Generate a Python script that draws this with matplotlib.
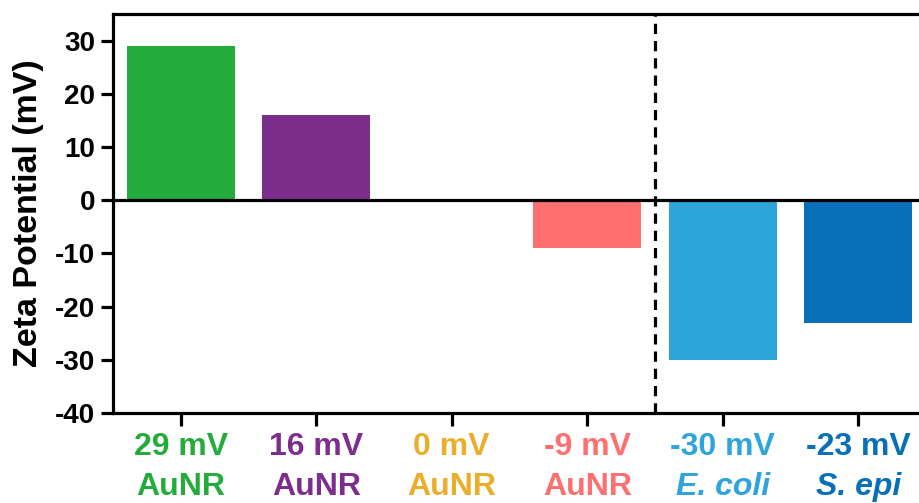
import numpy as np
import matplotlib.pyplot as plt
from matplotlib.transforms import offset_copy

plt.rcParams['font.family'] = ['Liberation Sans', 'DejaVu Sans']
plt.rcParams['font.weight'] = 'bold'

# data
values = [29, 16, 0, -9, -30, -23]
top_labels = ['29 mV', '16 mV', '0 mV', '-9 mV', '-30 mV', '-23 mV']
bottom_labels = ['AuNR', 'AuNR', 'AuNR', 'AuNR', 'E. coli', 'S. epi']
italic = [False, False, False, False, True, True]
colors = ['#23ac3b', '#7d2e8d', '#eaae2a', '#fe6f6f', '#2ea4dd', '#0870b8']
y_ticks = [-40, -30, -20, -10, 0, 10, 20, 30]

fig = plt.figure(figsize=(9.2, 5.03), dpi=100)
ax = fig.add_axes([113 / 920, 1 - 413 / 503, 813 / 920, 399 / 503])

x = np.arange(len(values))
ax.bar(x, values, width=0.8, color=colors, zorder=2)
ax.axhline(0, color='black', lw=2.3, zorder=3)
ax.axvline(3.5, color='black', lw=2.3, dashes=(3.2, 2.2), zorder=3)

ax.set_xlim(-0.5, 5.5)
ax.set_ylim(-40, 35)
ax.set_yticks(y_ticks)
ax.set_yticklabels([str(t) for t in y_ticks], fontsize=20, fontweight='bold')
ax.set_xticks(x)
ax.set_xticklabels([])
ax.tick_params(direction='out', length=9, width=2.3, pad=4)

for side in ['left', 'bottom', 'top']:
    ax.spines[side].set_linewidth(2.3)
ax.spines['right'].set_visible(False)

ax.set_ylabel('Zeta Potential (mV)', fontsize=24.5, fontweight='bold', labelpad=8)

trans = ax.get_xaxis_transform()
for i in range(len(values)):
    ax.text(i, 0, top_labels[i], transform=offset_copy(trans, fig=fig, y=-24.5, units='points'),
            ha='center', va='center', fontsize=23, fontweight='bold', color=colors[i])
    ax.text(i, 0, bottom_labels[i], transform=offset_copy(trans, fig=fig, y=-53, units='points'),
            ha='center', va='center', fontsize=23, fontweight='bold', color=colors[i],
            style='italic' if italic[i] else 'normal')

fig.savefig('out.png', dpi=100)
